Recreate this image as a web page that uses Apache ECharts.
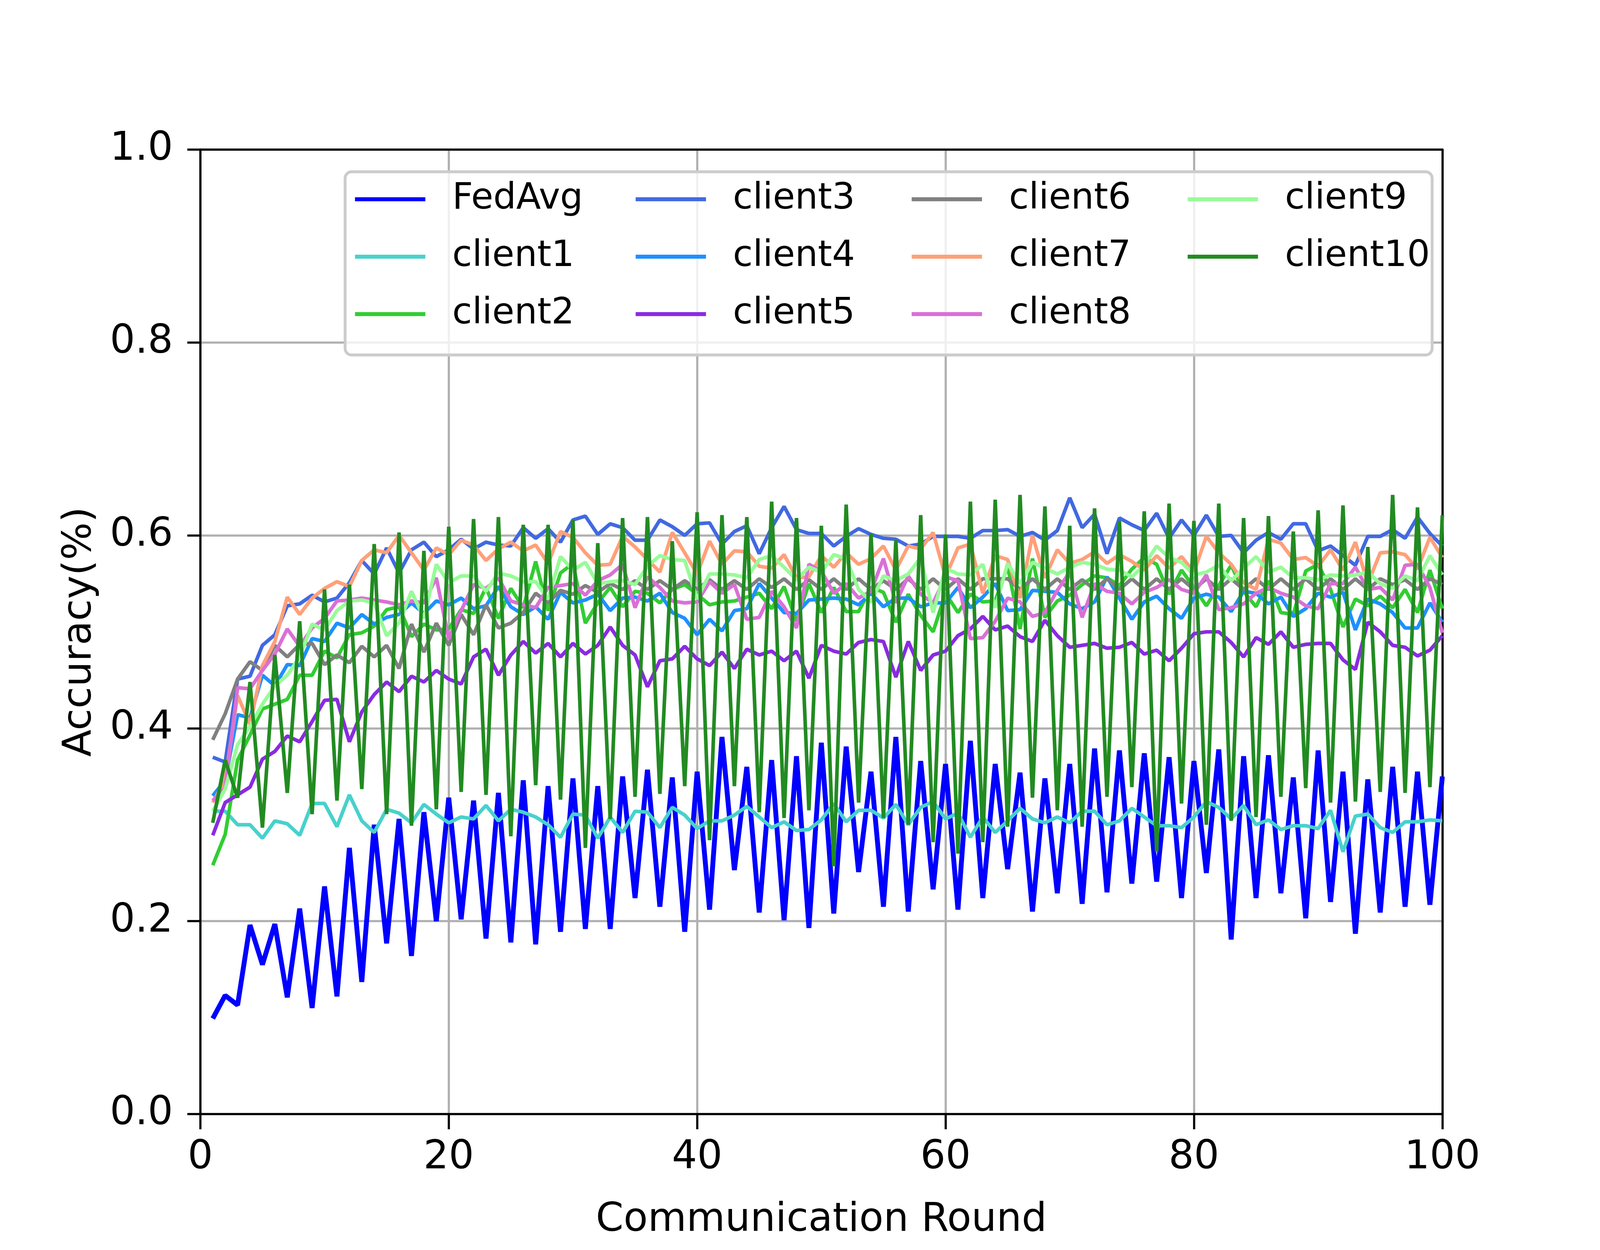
<!DOCTYPE html>
<html>
<head>
    <meta charset="UTF-8">
    <title>Accuracy vs Communication Round</title>
    <style>
        html, body {
            margin: 0;
            padding: 0;
            width: 100%;
            height: 100%;
            overflow: hidden;
            background: #fff;
        }
        #main {
            width: 100vw;
            height: 100vh;
        }
    </style>
    <script src="https://cdn.jsdelivr.net/npm/echarts@6/dist/echarts.min.js"></script>
</head>
<body>
    <div id="main"></div>

    <script>
        // communication rounds 1..100
        const rounds = Array.from({ length: 100 }, (_, i) => i + 1);

        const fedAvg = [
            0.099, 0.123, 0.113, 0.196, 0.155, 0.197, 0.121, 0.213, 0.110, 0.236, 0.122, 0.276, 0.137, 0.300, 0.177, 0.306, 0.164, 0.313, 0.200, 0.328, 0.202, 0.325, 0.182, 0.333, 0.178, 0.346,
            0.176, 0.340, 0.189, 0.348, 0.192, 0.340, 0.192, 0.350, 0.224, 0.357, 0.215, 0.349, 0.189, 0.355, 0.212, 0.391, 0.253, 0.360, 0.209, 0.367, 0.201, 0.371, 0.193, 0.385,
            0.208, 0.381, 0.251, 0.355, 0.215, 0.391, 0.210, 0.366, 0.233, 0.363, 0.212, 0.387, 0.224, 0.363, 0.254, 0.354, 0.210, 0.348, 0.229, 0.363, 0.218, 0.379, 0.230, 0.377, 0.239, 0.374,
            0.241, 0.370, 0.224, 0.366, 0.250, 0.378, 0.181, 0.371, 0.224, 0.372, 0.229, 0.349, 0.203, 0.377, 0.220, 0.355, 0.187, 0.347, 0.209, 0.360, 0.215, 0.355, 0.217, 0.350
        ];
        const client1 = [
            0.314, 0.314, 0.300, 0.300, 0.286, 0.304, 0.301, 0.289, 0.322, 0.322, 0.298, 0.331, 0.304, 0.292, 0.316, 0.312, 0.302, 0.321, 0.311, 0.302, 0.308, 0.306, 0.320, 0.304, 0.316, 0.313,
            0.308, 0.300, 0.287, 0.311, 0.310, 0.286, 0.308, 0.292, 0.314, 0.313, 0.297, 0.318, 0.310, 0.296, 0.304, 0.304, 0.310, 0.319, 0.308, 0.297, 0.303, 0.294, 0.295, 0.305,
            0.322, 0.303, 0.315, 0.315, 0.307, 0.321, 0.300, 0.318, 0.324, 0.306, 0.312, 0.287, 0.308, 0.292, 0.304, 0.317, 0.306, 0.302, 0.308, 0.302, 0.314, 0.314, 0.300, 0.304, 0.317, 0.308,
            0.299, 0.299, 0.297, 0.308, 0.324, 0.318, 0.306, 0.320, 0.300, 0.305, 0.295, 0.299, 0.299, 0.296, 0.315, 0.272, 0.309, 0.311, 0.297, 0.292, 0.303, 0.303, 0.305, 0.304
        ];
        const client2 = [
            0.258, 0.290, 0.367, 0.393, 0.420, 0.425, 0.430, 0.455, 0.455, 0.480, 0.473, 0.497, 0.499, 0.506, 0.523, 0.526, 0.495, 0.508, 0.502, 0.503, 0.523, 0.519, 0.546, 0.514, 0.545, 0.525,
            0.573, 0.522, 0.561, 0.571, 0.509, 0.530, 0.546, 0.526, 0.542, 0.540, 0.530, 0.544, 0.549, 0.539, 0.528, 0.531,
            0.532, 0.536, 0.540, 0.524, 0.547, 0.511, 0.550, 0.520, 0.546, 0.521, 0.521, 0.546, 0.541, 0.510, 0.539, 0.517,
            0.500, 0.540, 0.520, 0.539, 0.531, 0.532, 0.568, 0.503, 0.576, 0.515, 0.532, 0.538, 0.549, 0.558, 0.556, 0.548,
            0.565, 0.577, 0.570, 0.539, 0.564, 0.546, 0.527, 0.548, 0.569, 0.542, 0.526, 0.553, 0.520, 0.518, 0.563, 0.570,
            0.544, 0.505, 0.534, 0.527, 0.537, 0.525, 0.544, 0.520, 0.564, 0.524
        ];
        const client3 = [
            0.370, 0.365, 0.451, 0.454, 0.486, 0.497, 0.527, 0.529, 0.538, 0.531, 0.535, 0.551, 0.574, 0.560, 0.587, 0.561, 0.585, 0.593, 0.578, 0.585, 0.596, 0.586, 0.593, 0.590, 0.589, 0.608,
            0.597, 0.607, 0.593, 0.616, 0.620, 0.601, 0.612, 0.608, 0.595, 0.595, 0.616, 0.609, 0.600, 0.612, 0.613, 0.591,
            0.604, 0.610, 0.581, 0.608, 0.630, 0.606, 0.602, 0.602, 0.589, 0.599, 0.607, 0.601, 0.597, 0.596, 0.589, 0.591,
            0.599, 0.599, 0.599, 0.597, 0.605, 0.605, 0.606, 0.599, 0.603, 0.595, 0.605, 0.639, 0.608, 0.622, 0.581, 0.618,
            0.611, 0.605, 0.623, 0.597, 0.616, 0.600, 0.621, 0.599, 0.600, 0.582, 0.595, 0.603, 0.596, 0.612, 0.612, 0.584,
            0.589, 0.579, 0.569, 0.599, 0.599, 0.606, 0.597, 0.619, 0.602, 0.589
        ];
        const client4 = [
            0.330, 0.346, 0.414, 0.411, 0.455, 0.444, 0.466, 0.465, 0.493, 0.490, 0.509, 0.504, 0.518, 0.508, 0.515, 0.518, 0.530, 0.519, 0.532, 0.528, 0.535, 0.524, 0.527, 0.547, 0.526, 0.518,
            0.526, 0.513, 0.541, 0.530, 0.533, 0.539, 0.522, 0.535, 0.536, 0.532, 0.540, 0.520, 0.514, 0.497, 0.513, 0.501,
            0.522, 0.524, 0.550, 0.535, 0.520, 0.519, 0.533, 0.534, 0.535, 0.534, 0.528, 0.540, 0.526, 0.535, 0.535, 0.526,
            0.530, 0.530, 0.546, 0.525, 0.536, 0.550, 0.522, 0.523, 0.543, 0.542, 0.541, 0.529, 0.524, 0.531, 0.557, 0.535,
            0.513, 0.531, 0.537, 0.524, 0.514, 0.535, 0.539, 0.536, 0.521, 0.542, 0.540, 0.529, 0.536, 0.516, 0.524, 0.540,
            0.536, 0.541, 0.502, 0.534, 0.529, 0.520, 0.504, 0.504, 0.530, 0.510
        ];
        const client5 = [
            0.289, 0.323, 0.331, 0.339, 0.368, 0.376, 0.392, 0.386, 0.407, 0.429, 0.430, 0.386, 0.417, 0.435, 0.448, 0.438, 0.454, 0.448, 0.460, 0.451, 0.446, 0.474, 0.482, 0.455, 0.476, 0.490,
            0.478, 0.488, 0.474, 0.488, 0.477, 0.486, 0.505, 0.486, 0.476, 0.443, 0.470, 0.472, 0.485, 0.472, 0.465, 0.479,
            0.462, 0.482, 0.476, 0.480, 0.470, 0.480, 0.452, 0.486, 0.480, 0.477, 0.489, 0.492, 0.490, 0.453, 0.490, 0.460,
            0.476, 0.480, 0.496, 0.503, 0.516, 0.502, 0.506, 0.495, 0.490, 0.512, 0.496, 0.484, 0.486, 0.488, 0.483, 0.484,
            0.489, 0.477, 0.481, 0.470, 0.483, 0.498, 0.500, 0.500, 0.489, 0.474, 0.494, 0.487, 0.500, 0.484, 0.487, 0.488,
            0.488, 0.471, 0.461, 0.510, 0.500, 0.486, 0.484, 0.475, 0.481, 0.496
        ];
        const client6 = [
            0.388, 0.415, 0.451, 0.469, 0.460, 0.486, 0.474, 0.487, 0.488, 0.466, 0.476, 0.468, 0.485, 0.474, 0.486, 0.462, 0.508, 0.479, 0.509, 0.486, 0.518, 0.497, 0.528, 0.504, 0.509, 0.520,
            0.540, 0.530, 0.543, 0.539, 0.548, 0.541, 0.550, 0.544, 0.553, 0.544, 0.553, 0.544, 0.553, 0.544, 0.554, 0.544,
            0.553, 0.544, 0.555, 0.546, 0.555, 0.544, 0.554, 0.544, 0.555, 0.544, 0.555, 0.544, 0.553, 0.544, 0.555, 0.544,
            0.555, 0.544, 0.555, 0.544, 0.555, 0.555, 0.555, 0.544, 0.555, 0.544, 0.555, 0.544, 0.554, 0.544, 0.555, 0.544,
            0.555, 0.544, 0.555, 0.544, 0.555, 0.544, 0.555, 0.544, 0.555, 0.544, 0.555, 0.544, 0.555, 0.544, 0.555, 0.544,
            0.555, 0.544, 0.555, 0.544, 0.555, 0.549, 0.554, 0.544, 0.555, 0.549
        ];
        const client7 = [
            0.323, 0.346, 0.434, 0.404, 0.465, 0.490, 0.536, 0.518, 0.535, 0.545, 0.552, 0.547, 0.574, 0.585, 0.582, 0.600, 0.582, 0.564, 0.587, 0.580, 0.595, 0.590, 0.574, 0.586, 0.593, 0.584,
            0.590, 0.571, 0.604, 0.598, 0.582, 0.569, 0.570, 0.599, 0.588, 0.575, 0.562, 0.603, 0.582, 0.560, 0.594, 0.570,
            0.584, 0.583, 0.568, 0.566, 0.580, 0.556, 0.557, 0.579, 0.567, 0.582, 0.570, 0.576, 0.589, 0.564, 0.589, 0.586,
            0.603, 0.557, 0.587, 0.591, 0.540, 0.579, 0.575, 0.535, 0.600, 0.556, 0.585, 0.571, 0.575, 0.583, 0.571, 0.580,
            0.573, 0.564, 0.579, 0.566, 0.578, 0.562, 0.599, 0.582, 0.570, 0.551, 0.544, 0.596, 0.592, 0.575, 0.577, 0.568,
            0.585, 0.564, 0.593, 0.550, 0.582, 0.583, 0.580, 0.565, 0.598, 0.577
        ];
        const client8 = [
            0.325, 0.338, 0.442, 0.441, 0.460, 0.477, 0.503, 0.485, 0.504, 0.514, 0.532, 0.533, 0.535, 0.533, 0.531, 0.528, 0.532, 0.530, 0.556, 0.493, 0.522, 0.549, 0.545, 0.556, 0.532, 0.528,
            0.525, 0.546, 0.548, 0.550, 0.538, 0.553, 0.559, 0.570, 0.525, 0.557, 0.546, 0.532, 0.530, 0.531, 0.552, 0.540,
            0.549, 0.513, 0.515, 0.542, 0.526, 0.504, 0.570, 0.563, 0.540, 0.550, 0.535, 0.542, 0.576, 0.530, 0.558, 0.539,
            0.530, 0.557, 0.553, 0.493, 0.494, 0.511, 0.535, 0.531, 0.516, 0.520, 0.543, 0.562, 0.515, 0.550, 0.542, 0.540,
            0.529, 0.541, 0.546, 0.554, 0.544, 0.540, 0.559, 0.523, 0.525, 0.529, 0.540, 0.546, 0.540, 0.536, 0.527, 0.524,
            0.550, 0.550, 0.567, 0.544, 0.546, 0.533, 0.569, 0.570, 0.546, 0.499
        ];
        const client9 = [
            0.314, 0.337, 0.383, 0.402, 0.425, 0.444, 0.455, 0.474, 0.508, 0.502, 0.522, 0.532, 0.533, 0.530, 0.496, 0.509, 0.542, 0.514, 0.570, 0.551, 0.558, 0.558, 0.542, 0.561, 0.558, 0.552,
            0.552, 0.534, 0.578, 0.564, 0.572, 0.550, 0.552, 0.553, 0.549, 0.568, 0.579, 0.575, 0.574, 0.534, 0.560, 0.560,
            0.559, 0.556, 0.575, 0.579, 0.567, 0.554, 0.567, 0.562, 0.580, 0.576, 0.544, 0.531, 0.558, 0.553, 0.560, 0.577,
            0.520, 0.566, 0.560, 0.559, 0.570, 0.525, 0.571, 0.550, 0.572, 0.566, 0.560, 0.567, 0.572, 0.570, 0.565, 0.564,
            0.557, 0.569, 0.589, 0.577, 0.572, 0.559, 0.562, 0.569, 0.553, 0.566, 0.578, 0.562, 0.567, 0.556, 0.556, 0.554,
            0.559, 0.558, 0.559, 0.562, 0.550, 0.545, 0.558, 0.553, 0.579, 0.559
        ];
        const client10 = [
            0.302, 0.367, 0.328, 0.448, 0.297, 0.476, 0.333, 0.511, 0.311, 0.544, 0.325, 0.549, 0.337, 0.591, 0.311, 0.603, 0.299, 0.584, 0.316, 0.609, 0.334, 0.617, 0.331, 0.619, 0.288, 0.611,
            0.341, 0.611, 0.326, 0.616, 0.276, 0.592, 0.306, 0.618, 0.329, 0.619, 0.332, 0.594, 0.340, 0.624, 0.284, 0.621, 0.340, 0.619, 0.313, 0.635, 0.307, 0.618, 0.315, 0.610,
            0.257, 0.632, 0.323, 0.602, 0.307, 0.595, 0.300, 0.621, 0.282, 0.601, 0.270, 0.635, 0.282, 0.637, 0.298, 0.642, 0.328, 0.630, 0.315, 0.610, 0.298, 0.628, 0.329, 0.615, 0.339, 0.625,
            0.272, 0.633, 0.322, 0.615, 0.300, 0.633, 0.304, 0.618, 0.308, 0.620, 0.329, 0.604, 0.338, 0.626, 0.323, 0.631, 0.324, 0.588, 0.334, 0.642, 0.333, 0.629, 0.339, 0.621
        ];

        const seriesNames = ['FedAvg', 'client1', 'client2', 'client3', 'client4', 'client5',
            'client6', 'client7', 'client8', 'client9', 'client10'];
        const seriesValues = [fedAvg, client1, client2, client3, client4, client5,
            client6, client7, client8, client9, client10];
        const seriesColors = ['#0000ff', '#48d1cc', '#32cd32', '#4169e1', '#1e90ff', '#8a2be2',
            '#808080', '#ffa07a', '#da70d6', '#98fb98', '#228b22'];

        // legend columns, filled column by column like the original
        const legendColumns = [
            ['FedAvg', 'client1', 'client2'],
            ['client3', 'client4', 'client5'],
            ['client6', 'client7', 'client8'],
            ['client9', 'client10']
        ];

        const FONT = 'DejaVu Sans';

        function initializeChart() {
            const el = document.getElementById('main');
            const chart = echarts.init(el, null, { renderer: 'canvas' });

            // layout measured on a 4800x3200 canvas; scale each direction to the real viewport
            const sx = el.clientWidth / 4800;
            const sy = el.clientHeight / 3200;
            const sf = Math.sqrt(sx * sy);
            const X = (v) => v * sx;
            const Y = (v) => v * sy;
            const F = (v) => v * sf;

            const legendLeft = [1065, 1907, 2735, 3563];

            const series = seriesNames.map((name, k) => ({
                name: name,
                type: 'line',
                data: rounds.map((r, i) => [r, seriesValues[k][i]]),
                showSymbol: false,
                symbol: 'none',
                color: seriesColors[k],
                lineStyle: { width: F(k === 0 ? 13.5 : 10), color: seriesColors[k] },
                emphasis: { disabled: true },
                animation: false
            }));

            const legends = legendColumns.map((col, j) => ({
                data: col,
                orient: 'vertical',
                left: X(legendLeft[j]),
                top: Y(464),
                padding: 0,
                itemGap: Y(147) - F(100),
                itemWidth: X(211),
                itemHeight: F(11),
                icon: 'rect',
                selectedMode: false,
                z: 6,
                textStyle: {
                    fontFamily: FONT,
                    fontSize: F(100),
                    lineHeight: F(100),
                    color: '#000',
                    padding: [0, 0, 0, X(75)]
                }
            }));

            const axisLineStyle = { color: '#000', width: F(6) };
            const gridLineStyle = { color: '#b0b0b0', width: F(6) };

            const option = {
                animation: false,
                backgroundColor: '#ffffff',
                textStyle: { fontFamily: FONT },
                grid: { left: X(601), right: X(473), top: Y(383), bottom: Y(348), containLabel: false },
                graphic: [{
                    type: 'rect',
                    left: X(1031),
                    top: Y(436),
                    z: 5,
                    shape: { width: X(3261), height: Y(469), r: F(18) },
                    style: { fill: 'rgba(255,255,255,0.8)', stroke: '#cccccc', lineWidth: F(8) }
                }],
                legend: legends,
                xAxis: [{
                    type: 'value',
                    min: 0,
                    max: 100,
                    interval: 20,
                    name: 'Communication Round',
                    nameLocation: 'middle',
                    nameGap: Y(222),
                    nameTextStyle: { fontFamily: FONT, fontSize: F(110), color: '#000' },
                    axisLine: { show: true, onZero: false, lineStyle: axisLineStyle },
                    axisTick: { show: true, inside: false, length: Y(39), lineStyle: axisLineStyle },
                    axisLabel: { fontFamily: FONT, fontSize: F(110), color: '#000', margin: Y(62) },
                    splitLine: { show: true, lineStyle: gridLineStyle }
                }, {
                    type: 'value',
                    position: 'top',
                    min: 0,
                    max: 100,
                    axisLine: { show: true, onZero: false, lineStyle: axisLineStyle },
                    axisTick: { show: false },
                    axisLabel: { show: false },
                    splitLine: { show: false }
                }],
                yAxis: [{
                    type: 'value',
                    min: 0,
                    max: 1,
                    interval: 0.2,
                    name: 'Accuracy(%)',
                    nameLocation: 'middle',
                    nameGap: X(300),
                    nameTextStyle: { fontFamily: FONT, fontSize: F(110), color: '#000' },
                    axisLine: { show: true, onZero: false, lineStyle: axisLineStyle },
                    axisTick: { show: true, inside: false, length: X(39), lineStyle: axisLineStyle },
                    axisLabel: {
                        fontFamily: FONT, fontSize: F(110), color: '#000', margin: X(82),
                        formatter: (v) => v.toFixed(1)
                    },
                    splitLine: { show: true, lineStyle: gridLineStyle }
                }, {
                    type: 'value',
                    position: 'right',
                    min: 0,
                    max: 1,
                    axisLine: { show: true, onZero: false, lineStyle: axisLineStyle },
                    axisTick: { show: false },
                    axisLabel: { show: false },
                    splitLine: { show: false }
                }],
                series: series
            };

            chart.setOption(option);
            window.addEventListener('resize', () => chart.resize());
        }

        if (document.readyState === 'loading') {
            document.addEventListener('DOMContentLoaded', initializeChart);
        } else {
            initializeChart();
        }
    </script>
</body>
</html>
